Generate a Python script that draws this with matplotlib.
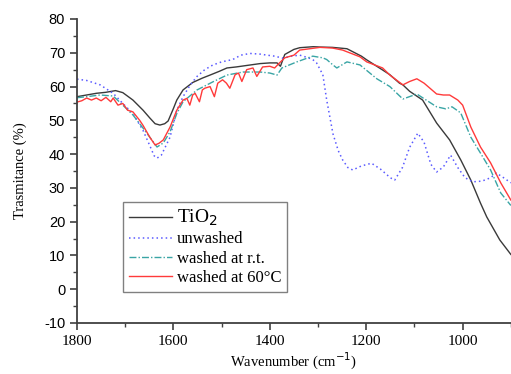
import matplotlib
matplotlib.use("Agg")
import matplotlib.pyplot as plt
from matplotlib.ticker import MultipleLocator

plt.rcParams["axes.unicode_minus"] = False

# TiO2 (black solid)
tio2_wn = [1800, 1780, 1760, 1740, 1720, 1705, 1684, 1663, 1649, 1638, 1628, 1618, 1611,
           1600, 1593, 1580, 1560, 1540, 1524, 1505, 1489, 1470, 1450, 1420, 1400, 1385,
           1378, 1369, 1350, 1338, 1310, 1296, 1270, 1240, 1210, 1199, 1166, 1151, 1131,
           1124, 1110, 1083, 1054, 1027, 1004, 983, 963, 950, 923, 900]
tio2_t = [57.0, 57.5, 58.0, 58.3, 58.8, 58.2, 56.0, 53.0, 50.7, 49.0, 48.6, 49.0, 49.8,
          53.5, 56.0, 59.0, 61.2, 62.5, 63.4, 64.5, 65.5, 65.8, 66.2, 66.8, 67.0, 67.0,
          66.0, 69.5, 71.0, 71.5, 71.8, 71.7, 71.6, 71.2, 69.0, 67.9, 64.9, 63.5, 61.0,
          60.5, 58.6, 56.0, 49.2, 44.2, 38.3, 32.3, 25.5, 21.4, 14.6, 10.3]

# unwashed (blue dotted)
unw_wn = [1800, 1780, 1752, 1725, 1705, 1684, 1663, 1649, 1640, 1634, 1625, 1607, 1593,
          1580, 1565, 1551, 1535, 1518, 1500, 1477, 1460, 1441, 1420, 1406, 1390, 1373,
          1355, 1338, 1320, 1311, 1303, 1290, 1282, 1269, 1258, 1249, 1238, 1228, 1210,
          1189, 1170, 1150, 1141, 1125, 1110, 1093, 1080, 1066, 1054, 1040, 1025, 1010,
          995, 979, 960, 942, 930, 915, 900]
unw_t = [62.2, 61.8, 60.5, 58.0, 55.0, 52.0, 47.0, 42.5, 39.5, 38.8, 39.7, 45.0, 53.0,
         57.0, 60.5, 63.0, 65.0, 66.4, 67.3, 68.0, 69.3, 69.8, 69.6, 69.3, 69.0, 68.4,
         69.0, 69.3, 68.5, 68.0, 67.0, 63.5, 56.0, 46.0, 41.0, 38.3, 36.0, 35.3, 36.5,
         37.3, 35.5, 33.0, 32.3, 36.0, 42.0, 46.2, 43.5, 37.0, 34.7, 36.2, 39.7, 36.0,
         33.0, 31.8, 32.0, 33.0, 34.4, 33.0, 31.5]

# washed at r.t. (teal dash-dot)
rt_wn = [1800, 1780, 1752, 1725, 1705, 1684, 1663, 1649, 1634, 1621, 1607, 1593, 1580,
         1551, 1518, 1489, 1456, 1420, 1400, 1385, 1375, 1344, 1311, 1290, 1282, 1270,
         1261, 1240, 1213, 1178, 1151, 1124, 1095, 1054, 1035, 1022, 1004, 983, 963,
         942, 921, 900]
rt_t = [56.7, 57.0, 57.5, 57.2, 54.5, 51.6, 47.7, 45.0, 42.1, 43.3, 46.6, 52.0, 55.5,
        59.0, 61.4, 63.4, 64.3, 64.3, 64.0, 63.4, 65.5, 67.3, 69.0, 68.5, 68.0, 66.5,
        65.5, 67.3, 66.4, 62.3, 60.0, 56.3, 57.8, 54.0, 53.4, 54.0, 52.2, 45.0, 40.3,
        35.3, 28.5, 24.8]

# washed at 60 C (red solid)
h60_wn = [1800, 1790, 1780, 1770, 1760, 1750, 1740, 1730, 1725, 1715, 1705, 1695, 1684,
          1670, 1663, 1649, 1638, 1630, 1621, 1607, 1593, 1580, 1572, 1566, 1560, 1555,
          1546, 1540, 1535, 1524, 1515, 1508, 1498, 1490, 1483, 1472, 1465, 1458, 1448,
          1435, 1427, 1415, 1400, 1390, 1380, 1369, 1350, 1338, 1296, 1270, 1249, 1213,
          1199, 1166, 1151, 1124, 1110, 1095, 1080, 1054, 1040, 1027, 1010, 1000, 983,
          963, 942, 921, 900]
h60_t = [55.4, 55.8, 56.6, 56.0, 56.6, 55.8, 56.8, 55.5, 56.6, 54.5, 55.0, 53.0, 52.5,
         50.0, 48.5, 45.0, 42.7, 43.2, 44.2, 48.0, 53.0, 56.0, 56.5, 54.5, 57.5, 58.0,
         55.5, 59.0, 59.5, 60.0, 57.0, 61.0, 62.0, 61.0, 59.5, 63.5, 64.0, 61.5, 65.0,
         65.5, 63.0, 65.8, 66.0, 65.5, 67.0, 68.5, 69.3, 70.8, 71.6, 71.4, 70.8, 68.8,
         67.3, 65.5, 63.4, 60.5, 61.5, 62.3, 61.0, 57.8, 57.5, 57.5, 56.0, 54.5, 48.0,
         42.1, 37.4, 31.5, 26.4]

serif = "Liberation Serif"
sans = "Liberation Sans"

fig = plt.figure(figsize=(5.11, 3.74), dpi=100)
ax = fig.add_axes([0.1507, 0.1364, 0.849, 0.8128])

ax.plot(tio2_wn, tio2_t, color="#3a3a3a", lw=1.0, label="TiO$_2$")
ax.plot(unw_wn, unw_t, color="#5a5aff", lw=1.1, ls=(0, (1, 2)), label="unwashed")
ax.plot(rt_wn, rt_t, color="#3aa5a5", lw=1.0, ls=(0, (5, 1.5, 1, 1.5)), label="washed at r.t.")
ax.plot(h60_wn, h60_t, color="#ff3a3a", lw=1.0, label="washed at 60°C")

ax.set_xlim(1800, 900)
ax.set_ylim(-10, 80)
ax.xaxis.set_major_locator(MultipleLocator(200))
ax.xaxis.set_minor_locator(MultipleLocator(100))
ax.yaxis.set_major_locator(MultipleLocator(10))
ax.yaxis.set_minor_locator(MultipleLocator(5))

for s in ["top", "right"]:
    ax.spines[s].set_visible(False)
for s in ["left", "bottom"]:
    ax.spines[s].set_color("#404040")
    ax.spines[s].set_linewidth(1.3)
ax.tick_params(which="major", direction="out", length=5, width=1.2, color="#404040")
ax.tick_params(which="minor", direction="out", length=3, width=1.0, color="#404040")

for lbl in ax.get_yticklabels():
    lbl.set_fontfamily(sans)
    lbl.set_fontsize(10.5)
for lbl in ax.get_xticklabels():
    lbl.set_fontfamily(serif)
    lbl.set_fontsize(11)

ax.set_ylabel("Trasmitance (%)", fontfamily=serif, fontsize=10.5, labelpad=12)
ax.set_xlabel("Wavenumber (cm$^{-1}$)", fontfamily=serif, fontsize=10.5, labelpad=2)

leg = ax.legend(loc="upper left", bbox_to_anchor=(0.106, 0.398), borderaxespad=0,
                prop={"family": serif, "size": 12}, fancybox=False, framealpha=1,
                edgecolor="#808080", handlelength=2.6, handletextpad=0.3,
                labelspacing=0.2, borderpad=0.35)
leg.get_frame().set_linewidth(1.0)
leg.get_texts()[0].set_fontsize(14)

fig.savefig("out.png", dpi=100)
